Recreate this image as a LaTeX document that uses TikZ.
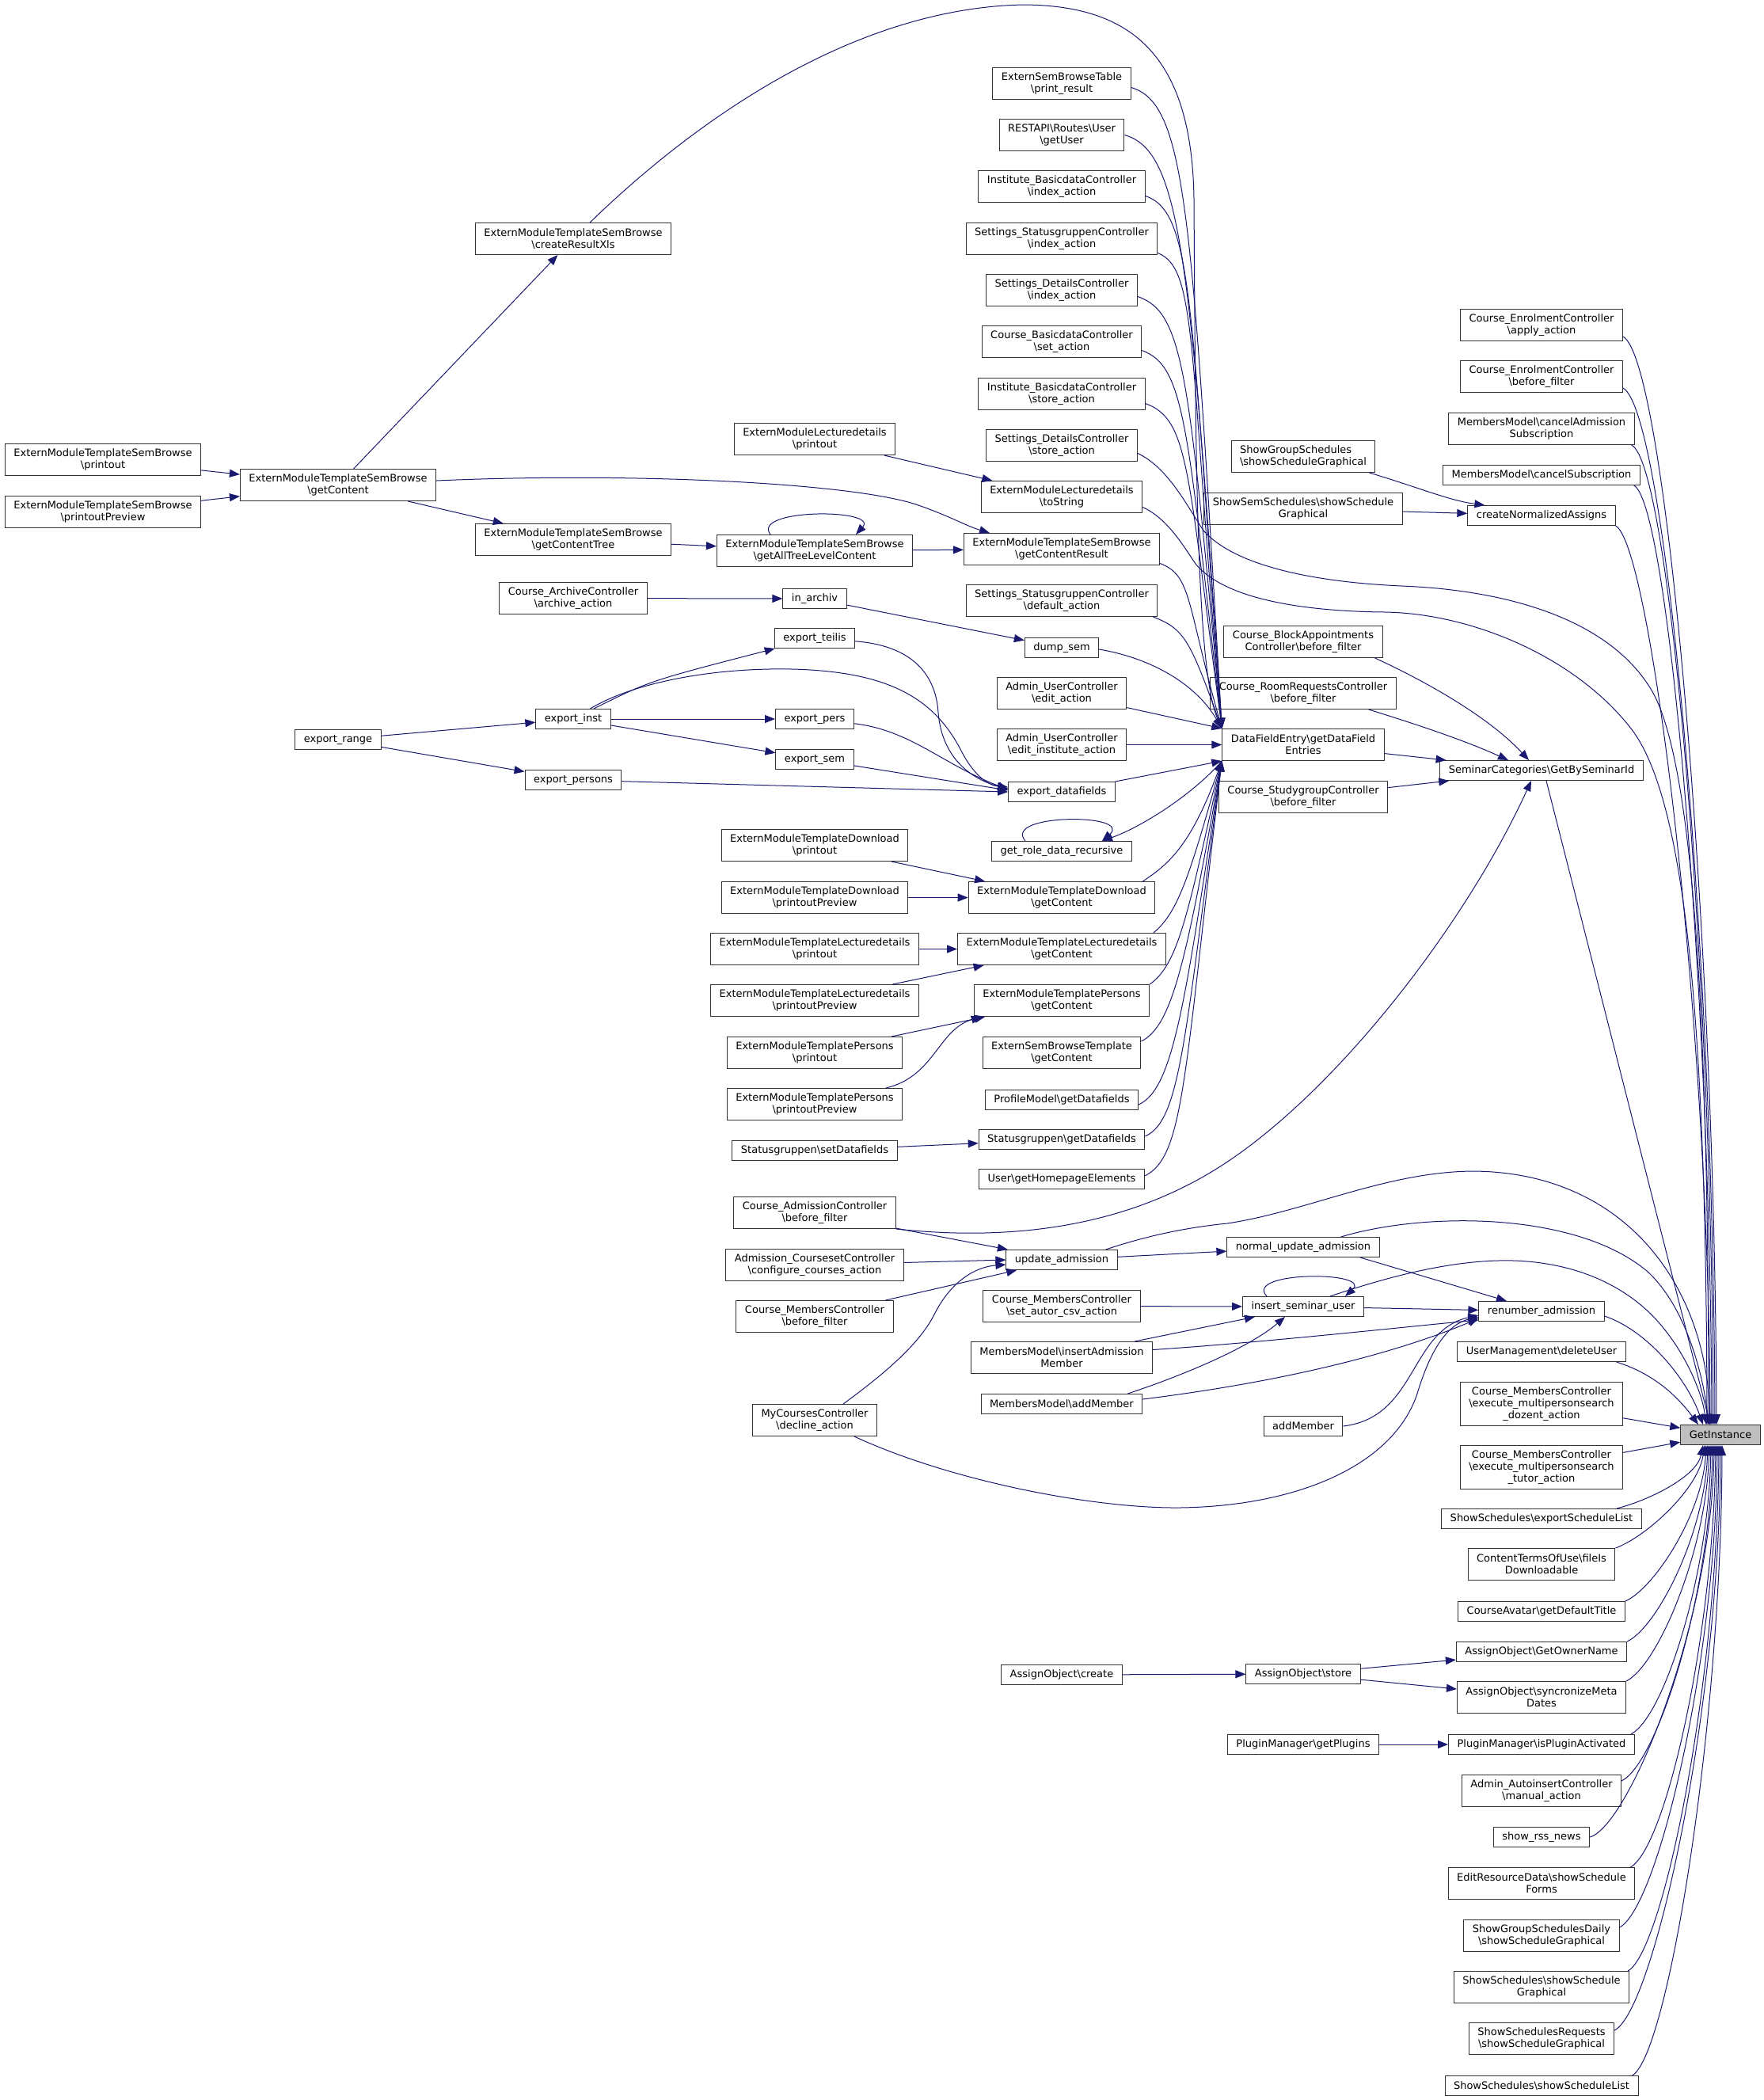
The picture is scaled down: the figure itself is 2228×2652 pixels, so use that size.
\documentclass[tikz,border=0pt]{standalone}
\usepackage{fontspec}
\setmainfont{DejaVu Sans}
\usetikzlibrary{arrows.meta}
\definecolor{mblue}{HTML}{191970}
\newcommand{\bsl}{\textbackslash}
\begin{document}
\begin{tikzpicture}[x=0.5pt,y=-0.5pt,
  box/.style={draw=black!80, fill=white, line width=0.5pt, inner xsep=5.5pt, inner ysep=0pt,
    font=\fontsize{6.5pt}{7.4pt}\selectfont, align=center, minimum height=12.5pt},
  two/.style={minimum height=20pt, yshift=0.25pt},
  three/.style={minimum height=27.5pt},
  e/.style={draw=mblue, line width=0.5pt, -{Triangle[length=6.5pt,width=5pt]}},
]
\useasboundingbox (0,0) rectangle (2228,2652);
% ---------- column 0
\node[box,two] (sbpo) at (130,581) {ExternModuleTemplateSemBrowse\\\bsl printout};
\node[box,two] (sbpp) at (130,647) {ExternModuleTemplateSemBrowse\\\bsl printoutPreview};
% ---------- column 1
\node[box,two] (sbgc) at (427,613) {ExternModuleTemplateSemBrowse\\\bsl getContent};
\node[box] (exrange) at (427,934) {export\_range};
% ---------- column 2
\node[box,two] (sbxls) at (724,302) {ExternModuleTemplateSemBrowse\\\bsl createResultXls};
\node[box,two] (sbtree) at (724,682) {ExternModuleTemplateSemBrowse\\\bsl getContentTree};
\node[box,two] (archact) at (724,756) {Course\_ArchiveController\\\bsl archive\_action};
\node[box] (exinst) at (724,908) {export\_inst};
\node[box] (expersons) at (724,985) {export\_persons};
% ---------- column 3
\node[box,two] (ldpo) at (1029,555) {ExternModuleLecturedetails\\\bsl printout};
\node[box,two] (sball) at (1029,696) {ExternModuleTemplateSemBrowse\\\bsl getAllTreeLevelContent};
\node[box] (inarch) at (1029,756) {in\_archiv};
\node[box] (exteilis) at (1029,806) {export\_teilis};
\node[box] (expers) at (1029,908) {export\_pers};
\node[box] (exsem) at (1029,959) {export\_sem};
\node[box,two] (dlpo) at (1029,1068) {ExternModuleTemplateDownload\\\bsl printout};
\node[box,two] (dlpp) at (1029,1134) {ExternModuleTemplateDownload\\\bsl printoutPreview};
\node[box,two] (tldpo) at (1029,1199) {ExternModuleTemplateLecturedetails\\\bsl printout};
\node[box,two] (tldpp) at (1029,1264) {ExternModuleTemplateLecturedetails\\\bsl printoutPreview};
\node[box,two] (pspo) at (1029,1330) {ExternModuleTemplatePersons\\\bsl printout};
\node[box,two] (pspp) at (1029,1395) {ExternModuleTemplatePersons\\\bsl printoutPreview};
\node[box] (sgset) at (1029,1453) {Statusgruppen\bsl setDatafields};
\node[box,two] (cadm) at (1029,1532) {Course\_AdmissionController\\\bsl before\_filter};
\node[box,two] (acs) at (1029,1598) {Admission\_CoursesetController\\\bsl configure\_courses\_action};
\node[box,two] (cmbf) at (1029,1663) {Course\_MembersController\\\bsl before\_filter};
\node[box,two] (mcdec) at (1029,1794) {MyCoursesController\\\bsl decline\_action};
% ---------- column 4
\node[box,two] (sbtpr) at (1341,106) {ExternSemBrowseTable\\\bsl print\_result};
\node[box,two] (rest) at (1341,171) {RESTAPI\bsl Routes\bsl User\\\bsl getUser};
\node[box,two] (ibidx) at (1341,236) {Institute\_BasicdataController\\\bsl index\_action};
\node[box,two] (sgidx) at (1341,302) {Settings\_StatusgruppenController\\\bsl index\_action};
\node[box,two] (sdidx) at (1341,367) {Settings\_DetailsController\\\bsl index\_action};
\node[box,two] (cbset) at (1341,432) {Course\_BasicdataController\\\bsl set\_action};
\node[box,two] (ibst) at (1341,498) {Institute\_BasicdataController\\\bsl store\_action};
\node[box,two] (sdst) at (1341,563) {Settings\_DetailsController\\\bsl store\_action};
\node[box,two] (ldts) at (1341,628) {ExternModuleLecturedetails\\\bsl toString};
\node[box,two] (sbres) at (1341,694) {ExternModuleTemplateSemBrowse\\\bsl getContentResult};
\node[box,two] (sgdef) at (1341,759) {Settings\_StatusgruppenController\\\bsl default\_action};
\node[box] (dump) at (1341,818) {dump\_sem};
\node[box,two] (ucedit) at (1341,876) {Admin\_UserController\\\bsl edit\_action};
\node[box,two] (ucinst) at (1341,941) {Admin\_UserController\\\bsl edit\_institute\_action};
\node[box] (exdf) at (1341,1000) {export\_datafields};
\node[box] (grdr) at (1341,1075) {get\_role\_data\_recursive};
\node[box,two] (dlgc) at (1341,1134) {ExternModuleTemplateDownload\\\bsl getContent};
\node[box,two] (tldgc) at (1341,1199) {ExternModuleTemplateLecturedetails\\\bsl getContent};
\node[box,two] (psgc) at (1341,1264) {ExternModuleTemplatePersons\\\bsl getContent};
\node[box,two] (esbt) at (1341,1330) {ExternSemBrowseTemplate\\\bsl getContent};
\node[box] (pmgd) at (1341,1389) {ProfileModel\bsl getDatafields};
\node[box] (sgget) at (1341,1439) {Statusgruppen\bsl getDatafields};
\node[box] (uhome) at (1341,1489) {User\bsl getHomepageElements};
\node[box] (upd) at (1341,1591) {update\_admission};
\node[box,two] (cmcsv) at (1341,1650) {Course\_MembersController\\\bsl set\_autor\_csv\_action};
\node[box,two] (mmins) at (1341,1715) {MembersModel\bsl insertAdmission\\Member};
\node[box] (mmadd) at (1341,1773) {MembersModel\bsl addMember};
\node[box] (aocr) at (1341,2115) {AssignObject\bsl create};
% ---------- column 5
\node[box,two,align=left] (sgs) at (1646,577) {ShowGroupSchedules\\\bsl showScheduleGraphical};
\node[box,two] (sss) at (1646,643) {ShowSemSchedules\bsl showSchedule\\Graphical};
\node[box,two] (cba) at (1646,811) {Course\_BlockAppointments\\Controller\bsl before\_filter};
\node[box,two] (crr) at (1646,876) {Course\_RoomRequestsController\\\bsl before\_filter};
\node[box,two] (dfe) at (1646,941) {DataFieldEntry\bsl getDataField\\Entries};
\node[box,two] (csg) at (1646,1007) {Course\_StudygroupController\\\bsl before\_filter};
\node[box] (nua) at (1646,1575) {normal\_update\_admission};
\node[box] (isu) at (1646,1650) {insert\_seminar\_user};
\node[box] (addm) at (1646,1801) {addMember};
\node[box] (aost) at (1646,2114) {AssignObject\bsl store};
\node[box] (pmgp) at (1646,2203) {PluginManager\bsl getPlugins};
% ---------- column 6
\node[box,two] (ceapp) at (1947,411) {Course\_EnrolmentController\\\bsl apply\_action};
\node[box,two] (cebf) at (1947,476) {Course\_EnrolmentController\\\bsl before\_filter};
\node[box,two] (mmcas) at (1947,542) {MembersModel\bsl cancelAdmission\\Subscription};
\node[box] (mmcs) at (1947,600) {MembersModel\bsl cancelSubscription};
\node[box] (cna) at (1947,651) {createNormalizedAssigns};
\node[box] (semcat) at (1947,973) {SeminarCategories\bsl GetBySeminarId};
\node[box] (renum) at (1947,1656) {renumber\_admission};
\node[box] (umdel) at (1947,1707) {UserManagement\bsl deleteUser};
\node[box,three] (cmdoz) at (1947,1773) {Course\_MembersController\\\bsl execute\_multipersonsearch\\\_dozent\_action};
\node[box,three] (cmtut) at (1947,1853) {Course\_MembersController\\\bsl execute\_multipersonsearch\\\_tutor\_action};
\node[box] (ssexp) at (1947,1918) {ShowSchedules\bsl exportScheduleList};
\node[box,two] (ctou) at (1947,1976) {ContentTermsOfUse\bsl fileIs\\Downloadable};
\node[box] (cadef) at (1947,2035) {CourseAvatar\bsl getDefaultTitle};
\node[box] (aoown) at (1947,2086) {AssignObject\bsl GetOwnerName};
\node[box,two] (aosync) at (1947,2144) {AssignObject\bsl syncronizeMeta\\Dates};
\node[box] (pmact) at (1947,2203) {PluginManager\bsl isPluginActivated};
\node[box,two] (aiman) at (1947,2262) {Admin\_AutoinsertController\\\bsl manual\_action};
\node[box] (rss) at (1947,2320) {show\_rss\_news};
\node[box,two] (erd) at (1947,2379) {EditResourceData\bsl showSchedule\\Forms};
\node[box,two] (sgsd) at (1947,2445) {ShowGroupSchedulesDaily\\\bsl showScheduleGraphical};
\node[box,two] (sssg) at (1947,2510) {ShowSchedules\bsl showSchedule\\Graphical};
\node[box,two] (ssrq) at (1947,2575) {ShowSchedulesRequests\\\bsl showScheduleGraphical};
\node[box] (sslist) at (1947,2634) {ShowSchedules\bsl showScheduleList};
% ---------- target
\node[box, fill=black!25, draw=black!80] (gi) at (2173,1812) {GetInstance};

% ================= edges: left part
\draw[e] (sbpo) -- (sbgc);
\draw[e] (sbpp) -- (sbgc);
\draw[e] (sbgc) -- (sbxls);
\draw[e] (sbgc) -- (sbtree);
\draw[e] (sbtree) -- (sball);
\draw[e] (sball) -- (sbres);
\draw[e] ([xshift=-28pt]sball.north) .. controls +(-25,-33) and +(30,-33) .. ([xshift=26pt]sball.north);
\draw[e] (sbgc) .. controls (800,596) and (1080,610) .. (1160,638) .. controls (1200,652) and (1220,664) .. ([xshift=-45.5pt]sbres.north);
\draw[e] (ldpo) -- (ldts);
\draw[e] (archact) -- (inarch);
\draw[e] (inarch) -- (dump);
\draw[e] (exrange) -- (exinst);
\draw[e] (exrange) -- (expersons);
\draw[e] (exinst) .. controls (820,860) .. (exteilis);
\draw[e] (exinst) -- (expers);
\draw[e] (exinst) -- (exsem);
\draw[e] (exinst) .. controls (800,862) and (900,843) .. (1000,845) .. controls (1120,848) and (1180,880) .. (1215,950) .. controls (1232,982) and (1250,992) .. ([yshift=3pt]exdf.west);
\draw[e] (exteilis) .. controls (1150,815) and (1182,850) .. (1185,900) .. controls (1190,960) and (1230,985) .. ([yshift=2pt]exdf.west);
\draw[e] (expers) .. controls (1150,922) and (1190,965) .. ([yshift=1.5pt]exdf.west);
\draw[e] (exsem) -- ([yshift=1pt]exdf.west);
\draw[e] (expersons) -- (exdf.west);
\draw[e] (dlpo) -- (dlgc);
\draw[e] (dlpp) -- (dlgc);
\draw[e] (tldpo) -- (tldgc);
\draw[e] (tldpp) -- (tldgc);
\draw[e] (pspo) -- (psgc);
\draw[e] (pspp) .. controls (1180,1360) and (1185,1300) .. ([xshift=5pt]psgc.south west);
\draw[e] (sgset) -- (sgget);

% ================= edges into DataFieldEntry (from above)
\draw[e] (sbxls) .. controls (880,150) and (1080,10) .. (1293,6) .. controls (1420,7) and (1505,60) .. (1508,250) .. controls (1510,600) and (1512,850) .. (dfe.north west);
\draw[e] ([yshift=-2.5pt]sbtpr.east) .. controls +(70,20) and +(-38,-650) .. (dfe.north west);
\draw[e] (rest.east) .. controls +(70,20) and +(-40,-600) .. (dfe.north west);
\draw[e] ([yshift=-6pt]ibidx.east) .. controls +(60,20) and +(-40,-540) .. (dfe.north west);
\draw[e] ([yshift=-9pt]sgidx.east) .. controls +(50,20) and +(-42,-480) .. (dfe.north west);
\draw[e] ([yshift=-4pt]sdidx.east) .. controls +(60,20) and +(-42,-440) .. (dfe.north west);
\draw[e] ([yshift=-5.5pt]cbset.east) .. controls +(55,20) and +(-44,-380) .. (dfe.north west);
\draw[e] ([yshift=-6pt]ibst.east) .. controls +(55,20) and +(-44,-330) .. (dfe.north west);
\draw[e] ([yshift=-9pt]sbres.east) .. controls +(40,15) and +(-45,-160) .. (dfe.north west);
\draw[e] ([xshift=-3pt]sgdef.south east) .. controls +(40,15) and +(-40,-110) .. (dfe.north west);
\draw[e] ([yshift=-1pt]dump.east) .. controls +(60,10) and +(-35,-60) .. (dfe.north west);
\draw[e] (ucedit) -- (dfe.north west);
\draw[e] (ucinst) -- (dfe);
% from below
\draw[e] (exdf) -- (dfe.south west);
\draw[e] ([xshift=-8pt]dlgc.north east) .. controls +(30,-20) and +(-40,110) .. (dfe.south west);
\draw[e] ([xshift=-8pt]tldgc.north east) .. controls +(30,-25) and +(-42,150) .. (dfe.south west);
\draw[e] (psgc.north east) .. controls +(35,-25) and +(-44,200) .. (dfe.south west);
\draw[e] ([yshift=-3pt]esbt.north east) .. controls +(40,-20) and +(-45,250) .. (dfe.south west);
\draw[e] ([yshift=-3pt]pmgd.east) .. controls +(45,-20) and +(-46,300) .. (dfe.south west);
\draw[e] ([yshift=2pt]sgget.east) .. controls +(45,-20) and +(-47,350) .. (dfe.south west);
\draw[e] ([yshift=2pt]uhome.east) .. controls +(50,-25) and +(-48,400) .. (dfe.south west);
% get_role_data_recursive
\draw[e] (dfe.south west) .. controls (1505,1005) and (1440,1045) .. ([xshift=25.5pt]grdr.north);
\draw[e] ([xshift=-23pt]grdr.north) .. controls +(-30,-35) and +(40,-35) .. ([xshift=25.5pt]grdr.north);

% ================= SeminarCategories
\draw[e] (dfe) -- (semcat);
\draw[e] (csg) -- (semcat);
\draw[e] ([xshift=-5pt]cba.south east) .. controls (1800,860) and (1880,905) .. ([xshift=-8pt]semcat.north);
\draw[e] ([xshift=-17.5pt]crr.south east) .. controls (1790,915) and (1850,935) .. ([xshift=-21pt]semcat.north);
\draw[e] (cadm.south east) .. controls (1300,1570) and (1430,1540) .. (1530,1480) .. controls (1680,1390) and (1850,1170) .. ([xshift=-6.5pt]semcat.south);
\draw[e] ([xshift=3pt]semcat.south) -- ([xshift=-6.5pt]gi.north);

% ================= createNormalizedAssigns
\draw[e] ([xshift=-4pt]sgs.south east) .. controls (1790,615) and (1830,632) .. ([xshift=11pt]cna.north west);
\draw[e] (sss) -- (cna);

% ================= admission cluster
\draw[e] (cadm) -- (upd);
\draw[e] (acs) -- (upd.west);
\draw[e] (cmbf) -- (upd);
\draw[e] ([xshift=18pt]mcdec.north) .. controls (1110,1740) and (1160,1700) .. (1180,1660) .. controls (1200,1620) and (1230,1600) .. ([yshift=-3pt]upd.west);
\draw[e] ([xshift=25pt]mcdec.south) .. controls (1200,1870) and (1380,1905) .. (1490,1904) .. controls (1640,1902) and (1760,1850) .. (1790,1760) .. controls (1808,1700) and (1830,1672) .. ([yshift=3pt]renum.south west);
\draw[e] (upd) -- (nua);
\draw[e] ([xshift=36pt]nua.south) -- ([xshift=-22pt]renum.north);
\draw[e] ([xshift=-23pt]isu.north) .. controls +(-30,-32) and +(35,-32) .. ([xshift=26.5pt]isu.north);
\draw[e] (isu) -- (renum);
\draw[e] (cmcsv) -- (isu);
\draw[e] ([xshift=-11.5pt]mmins.north east) -- ([xshift=-30.5pt]isu.south);
\draw[e] ([yshift=5pt]mmins.east) .. controls (1600,1695) and (1780,1675) .. ([yshift=1pt]renum.south west);
\draw[e] ([xshift=-9.5pt]mmadd.north east) .. controls (1500,1735) and (1580,1700) .. ([xshift=-11.5pt]isu.south);
\draw[e] ([yshift=3pt]mmadd.east) .. controls (1620,1745) and (1760,1710) .. ([yshift=2pt]renum.south west);
\draw[e] (addm.east) .. controls (1790,1790) and (1780,1680) .. ([yshift=4pt]renum.south west);

% ================= AssignObject / Plugin
\draw[e] (aocr) -- (aost);
\draw[e] (aost) -- (aoown);
\draw[e] (aost) -- (aosync);
\draw[e] (pmgp) -- (pmact);

% ================= into GetInstance (from above)
\draw[e] ([yshift=3pt]ceapp.south east) .. controls +(55,30) and +(-2,-620) .. ([xshift=-2.5pt]gi.north);
\draw[e] ([yshift=3pt]cebf.south east) .. controls +(55,30) and +(-2,-590) .. ([xshift=-3.5pt]gi.north);
\draw[e] ([xshift=-2pt]mmcas.south east) .. controls +(50,25) and +(-2,-557) .. ([xshift=-4.5pt]gi.north);
\draw[e] ([xshift=-4pt]mmcs.south east) .. controls +(45,25) and +(-2,-534) .. ([xshift=-5.5pt]gi.north);
\draw[e] (cna.south east) .. controls +(45,25) and +(-2,-512) .. ([xshift=-6.5pt]gi.north);
\draw[e] ([yshift=-5pt]sdst.east) .. controls (1475,590) and (1500,640) .. (1520,670) .. controls (1560,715) and (1660,735) .. (1770,740) .. controls (1900,745) and (2030,780) .. (2085,870) .. controls (2140,960) and (2158,1300) .. ([xshift=-7.5pt]gi.north);
\draw[e] ([yshift=-6.5pt]ldts.east) .. controls (1475,655) and (1495,690) .. (1510,712) .. controls (1545,755) and (1640,772) .. (1750,773) .. controls (1860,775) and (1990,830) .. (2060,920) .. controls (2130,1010) and (2155,1300) .. ([xshift=-8.5pt]gi.north);
\draw[e] ([xshift=-7.5pt]upd.north east) .. controls (1450,1560) and (1500,1550) .. (1550,1545) .. controls (1650,1530) and (1750,1480) .. (1860,1479) .. controls (2050,1480) and (2155,1620) .. ([xshift=-6.5pt]gi.north);
\draw[e] ([xshift=-24.5pt]nua.north east) .. controls (1800,1530) and (1990,1530) .. (2080,1605) .. controls (2130,1650) and (2152,1740) .. ([xshift=-7.5pt]gi.north);
\draw[e] ([xshift=17pt]isu.north) .. controls (1760,1610) and (1840,1590) .. (1912,1592) .. controls (2000,1595) and (2060,1630) .. (2095,1670) .. controls (2130,1710) and (2150,1760) .. ([xshift=-9pt]gi.north);
\draw[e] ([yshift=-3pt]renum.east) .. controls (2080,1680) and (2130,1740) .. ([xshift=-11pt]gi.north);
\draw[e] ([xshift=-6pt]umdel.south east) .. controls (2090,1735) and (2120,1765) .. ([xshift=-14pt]gi.north);
% side
\draw[e] (cmdoz) -- (gi);
\draw[e] (cmtut) -- (gi);
% from below
\draw[e] ([xshift=-16pt]ssexp.north east) .. controls +(40,-10) and +(-8,40) .. ([xshift=-11pt]gi.south);
\draw[e] (ctou.north east) .. controls +(40,-15) and +(-8,55) .. ([xshift=-10pt]gi.south);
\draw[e] (cadef.north east) .. controls +(35,-15) and +(-5,89) .. ([xshift=-9pt]gi.south);
\draw[e] (aoown.north east) .. controls +(38,-18) and +(-4,112) .. ([xshift=-8pt]gi.south);
\draw[e] (aosync.north east) .. controls +(40,-20) and +(-4,134) .. ([xshift=-7pt]gi.south);
\draw[e] ([xshift=-2.5pt]pmact.north east) .. controls +(42,-22) and +(-3,164) .. ([xshift=-6pt]gi.south);
\draw[e] ([yshift=-4pt]aiman.north east) .. controls +(45,-22) and +(-3,191) .. ([xshift=-5pt]gi.south);
\draw[e] (rss.east) .. controls +(50,-15) and +(-3,223) .. ([xshift=-4pt]gi.south);
\draw[e] ([xshift=-3pt]erd.north east) .. controls +(45,-25) and +(-3,240) .. ([xshift=-3pt]gi.south);
\draw[e] ([yshift=-5pt]sgsd.north east) .. controls +(48,-25) and +(-2,275) .. ([xshift=-2pt]gi.south);
\draw[e] ([xshift=-1pt]sssg.north east) .. controls +(45,-25) and +(-2,300) .. ([xshift=-1pt]gi.south);
\draw[e] ([yshift=-5pt]ssrq.north east) .. controls +(50,-25) and +(-1,333) .. (gi.south);
\draw[e] ([xshift=-4pt]sslist.north east) .. controls +(45,-25) and +(-1,355) .. ([xshift=1pt]gi.south);
\end{tikzpicture}
\end{document}
